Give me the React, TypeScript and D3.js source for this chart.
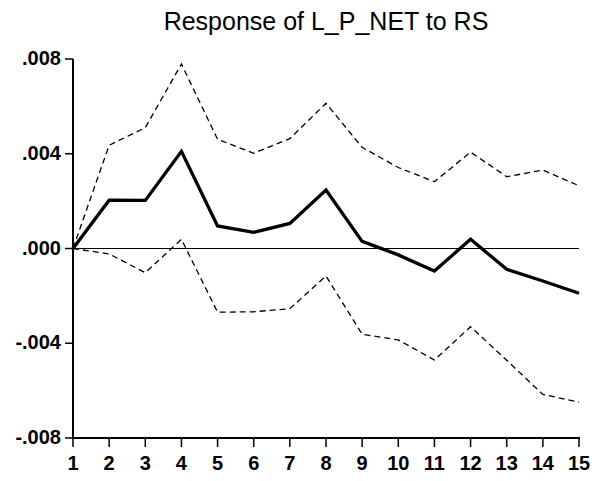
import React from 'react';
import * as d3 from 'd3';

const periods = [1, 2, 3, 4, 5, 6, 7, 8, 9, 10, 11, 12, 13, 14, 15];
const response = [0, 0.00204, 0.00203, 0.0041, 0.00095, 0.00068, 0.00106, 0.00247, 0.0003, -0.00027, -0.00095, 0.00039, -0.00088, -0.00137, -0.00189];
const upperBand = [0, 0.00436, 0.0051, 0.00779, 0.00461, 0.00402, 0.00464, 0.00613, 0.00427, 0.00342, 0.00282, 0.00407, 0.00303, 0.00331, 0.00265];
const lowerBand = [0, -0.00023, -0.00102, 0.00039, -0.00269, -0.00267, -0.00254, -0.00116, -0.00362, -0.00386, -0.00471, -0.0033, -0.00472, -0.00616, -0.00649];
const yTicks = [0.008, 0.004, 0, -0.004, -0.008];
const yTickLabels = ['.008', '.004', '.000', '-.004', '-.008'];
const title = 'Response of L_P_NET to RS';

const W = 592;
const H = 481;
const FONT = '"Liberation Sans", Arial, Helvetica, sans-serif';

export default function App() {
    const x = d3.scaleLinear().domain([1, 15]).range([73, 579]);
    const y = d3.scaleLinear().domain([-0.008, 0.008]).range([438, 59]);

    const line = d3.line<number>()
        .x((d, i) => x(periods[i]))
        .y(d => y(d));

    return (
        <svg width={W} height={H} style={{ position: 'absolute', left: 0, top: 0, background: '#fff' }}>
            <rect x={0} y={0} width={W} height={H} fill="#fff" />
            <text x={(x(1) + x(15)) / 2} y={30} textAnchor="middle" fontFamily={FONT} fontSize={25} fill="#000">
                {title}
            </text>

            {/* zero line */}
            <line x1={x(1)} x2={x(15)} y1={y(0)} y2={y(0)} stroke="#000" strokeWidth={1} />

            {/* bands */}
            <path d={line(upperBand) || ''} fill="none" stroke="#000" strokeWidth={1.3} strokeDasharray="6,4" />
            <path d={line(lowerBand) || ''} fill="none" stroke="#000" strokeWidth={1.3} strokeDasharray="6,4" />
            <path d={line(response) || ''} fill="none" stroke="#000" strokeWidth={3.3} strokeLinejoin="miter" />

            {/* y axis */}
            <line x1={x(1)} x2={x(1)} y1={y(0.008)} y2={y(-0.008) + 1} stroke="#000" strokeWidth={2} />
            {yTicks.map((t, i) => (
                <g key={t}>
                    <line x1={x(1) - 8} x2={x(1)} y1={y(t)} y2={y(t)} stroke="#000" strokeWidth={1.5} />
                    <text x={x(1) - 12} y={y(t) + 6} textAnchor="end" fontFamily={FONT} fontWeight="bold" fontSize={20} fill="#000">
                        {yTickLabels[i]}
                    </text>
                </g>
            ))}

            {/* x axis */}
            <line x1={x(1) - 1} x2={x(15) + 1} y1={y(-0.008)} y2={y(-0.008)} stroke="#000" strokeWidth={2} />
            {periods.map(p => (
                <g key={p}>
                    <line x1={x(p)} x2={x(p)} y1={y(-0.008)} y2={y(-0.008) + 9} stroke="#000" strokeWidth={1.5} />
                    <text x={x(p)} y={470} textAnchor="middle" fontFamily={FONT} fontWeight="bold" fontSize={20} fill="#000">
                        {p}
                    </text>
                </g>
            ))}
        </svg>
    );
}
